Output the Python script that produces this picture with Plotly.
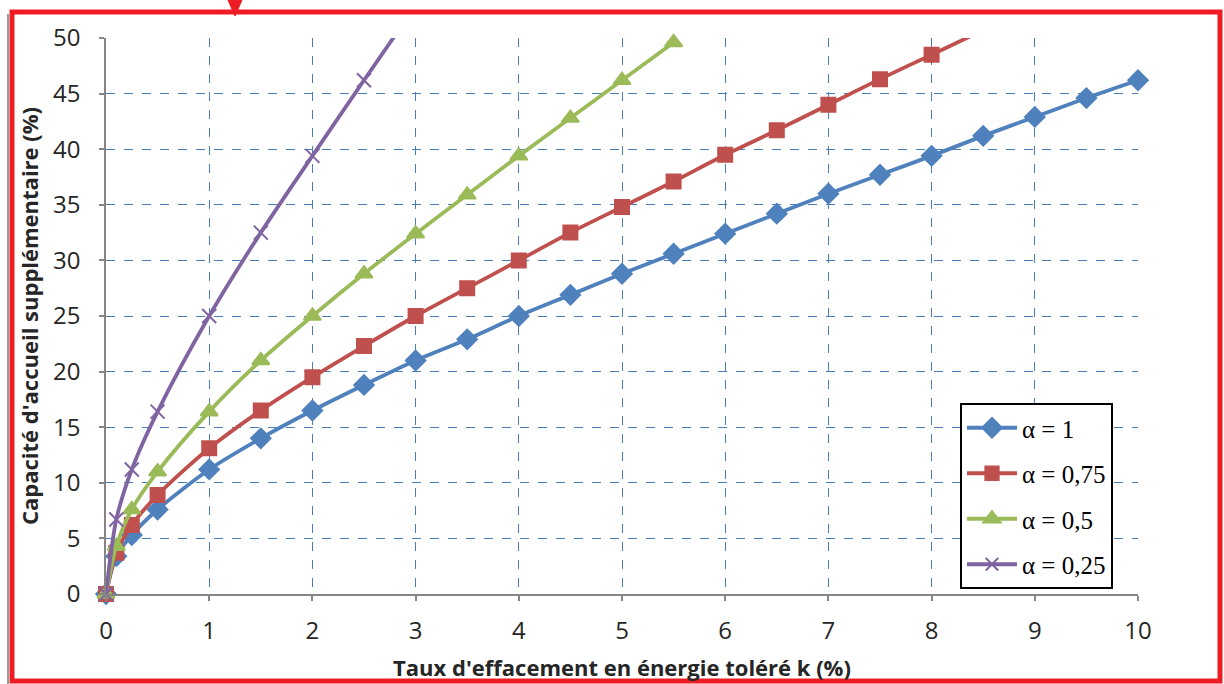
import plotly.graph_objects as go

k_a1 = [0, 0.1, 0.25, 0.5, 1, 1.5, 2, 2.5, 3, 3.5, 4, 4.5, 5, 5.5, 6, 6.5, 7, 7.5, 8, 8.5, 9, 9.5, 10]
cap_a1 = [0, 3.4, 5.3, 7.6, 11.2, 14.0, 16.5, 18.8, 21.0, 22.9, 25.0, 26.9, 28.8, 30.6, 32.4, 34.2, 36.0, 37.7, 39.4, 41.2, 42.9, 44.6, 46.2]

k_a075 = [0, 0.1, 0.25, 0.5, 1, 1.5, 2, 2.5, 3, 3.5, 4, 4.5, 5, 5.5, 6, 6.5, 7, 7.5, 8, 8.5]
cap_a075 = [0, 3.7, 6.2, 8.9, 13.1, 16.5, 19.5, 22.3, 25.0, 27.5, 30.0, 32.5, 34.8, 37.1, 39.5, 41.7, 44.0, 46.3, 48.5, 50.7]

k_a05 = [0, 0.1, 0.25, 0.5, 1, 1.5, 2, 2.5, 3, 3.5, 4, 4.5, 5, 5.5]
cap_a05 = [0, 4.3, 7.6, 11.0, 16.4, 21.0, 25.0, 28.8, 32.4, 35.9, 39.4, 42.8, 46.2, 49.6]

k_a025 = [0, 0.1, 0.25, 0.5, 1, 1.5, 2, 2.5, 3]
cap_a025 = [0, 6.7, 11.2, 16.4, 25.0, 32.5, 39.4, 46.2, 52.9]

series = [
    ("α = 1", k_a1, cap_a1, "#4F81BD", "diamond", 15),
    ("α = 0,75", k_a075, cap_a075, "#C0504D", "square", 14),
    ("α = 0,5", k_a05, cap_a05, "#9BBB59", "triangle-up", 15),
    ("α = 0,25", k_a025, cap_a025, "#8064A2", "x-thin-open", 14),
]

YMAX = 50
fig = go.Figure()
for i, (name, xs, ys, col, sym, sz) in enumerate(series):
    sizes = [sz if v <= YMAX else 0 for v in ys]
    fig.add_trace(go.Scatter(
        x=xs, y=ys, name=name, mode="lines+markers",
        line=dict(color=col, width=3.8, shape="spline", smoothing=0.8),
        marker=dict(symbol=sym, size=sizes, color=col, opacity=1,
                    line=dict(color=col, width=2)),
        cliponaxis=False, legendgroup=f"g{i}",
    ))

tick_font = dict(family="Open Sans, Liberation Sans, sans-serif", size=24, color="#262626")
title_font = dict(family="Open Sans, sans-serif", size=22, color="#262626")
axis_common = dict(
    showgrid=True, gridcolor="#4A7EBB", griddash="dash", gridwidth=1,
    showline=True, linecolor="#868686", linewidth=1.5,
    ticks="outside", tickcolor="#868686", ticklen=5, tickwidth=1.5,
    zeroline=False, tickfont=tick_font, automargin=False,
)

fig.update_xaxes(range=[0, 10], dtick=1, ticklabelstandoff=9, **axis_common,
                 title=dict(text="<b>Taux d'effacement en énergie toléré k (%)</b>",
                            font=title_font, standoff=16))
fig.update_yaxes(range=[0, YMAX], dtick=5, ticklabelstandoff=14, **axis_common,
                 title=dict(text="<b>Capacité d'accueil supplémentaire (%)</b>",
                            font=title_font, standoff=8))

W, H = 1224, 684
ml, mr, mt, mb = 106, 86, 38, 90
pw, ph = W - ml - mr, H - mt - mb
def px(x): return (x - ml) / pw
def py(y): return (H - mb - y) / ph

fig.update_layout(
    width=W, height=H,
    margin=dict(l=ml, r=mr, t=mt, b=mb, autoexpand=False),
    paper_bgcolor="white", plot_bgcolor="white",
    showlegend=True,
    legend=dict(x=px(960), y=py(403), xanchor="left", yanchor="top",
                bordercolor="#000000", borderwidth=2, bgcolor="white",
                font=dict(family="Liberation Serif, Times New Roman, serif", size=25, color="#000000"),
                tracegroupgap=10, itemwidth=50),
    shapes=[
        dict(type="line", xref="paper", yref="paper", x0=px(8), x1=px(8), y0=py(14), y1=py(684),
             line=dict(color="#9a9a9a", width=2)),
        dict(type="rect", xref="paper", yref="paper", x0=px(12), x1=px(1220), y0=py(681), y1=py(12),
             line=dict(color="#EE1C25", width=5)),
        dict(type="path", xref="paper", yref="paper",
             path=f"M {px(228)} {py(0)} L {px(242)} {py(0)} L {px(235)} {py(16)} Z",
             fillcolor="#EE1C25", line=dict(color="#EE1C25", width=1)),
    ],
)

fig.write_html("out.html", config={"displayModeBar": False},
               post_script="document.body.style.margin='0';document.body.style.overflow='hidden';")
